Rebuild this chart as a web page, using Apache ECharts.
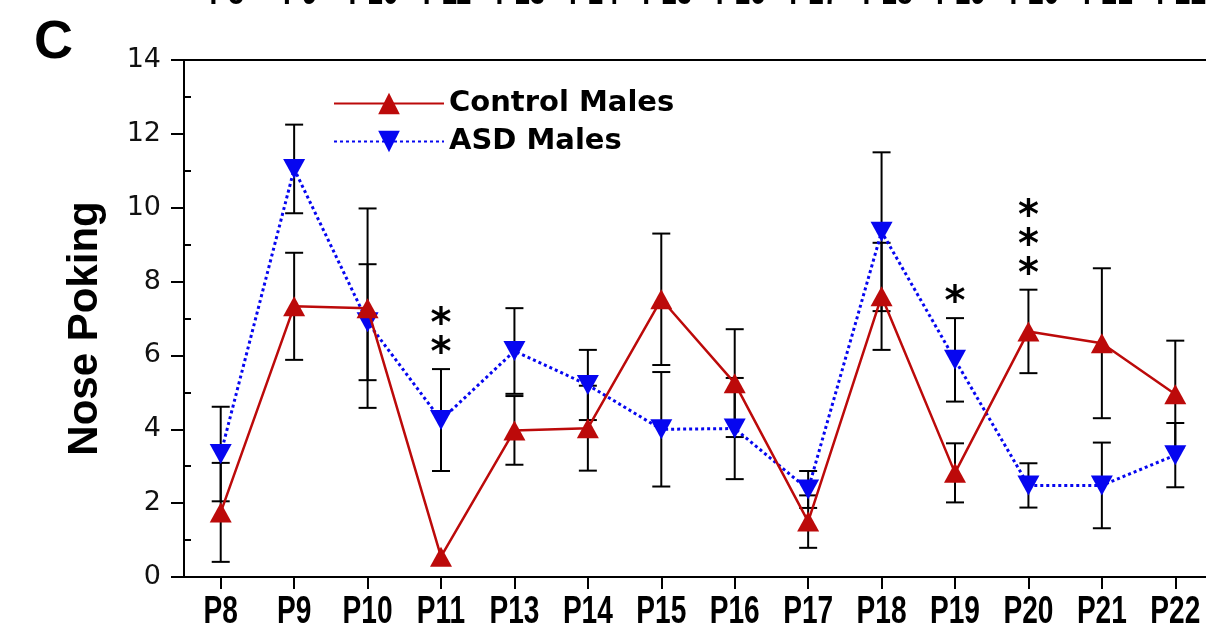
<!DOCTYPE html>
<html>
<head>
<meta charset="utf-8">
<script src="https://cdn.jsdelivr.net/npm/echarts@6/dist/echarts.min.js"></script>
<style>
  html, body { margin: 0; padding: 0; background: #fff; }
  #chart { width: 1206px; height: 640px; }
</style>
</head>
<body>
<div id="chart"></div>
<script>
// Postnatal days on the x axis
const categories = ['P8', 'P9', 'P10', 'P11', 'P13', 'P14', 'P15', 'P16', 'P17', 'P18', 'P19', 'P20', 'P21', 'P22'];

// Mean nose-poking counts and their error (± SEM)
const controlMean = [1.75, 7.33, 7.28, 0.55, 3.97, 4.03, 7.52, 5.25, 1.50, 7.60, 2.82, 6.65, 6.33, 4.95];
const controlErr  = [1.34, 1.45, 2.70, 0.00, 0.93, 1.15, 1.78, 1.46, 0.71, 1.45, 0.80, 1.13, 2.03, 1.45];
const asdMean     = [3.33, 11.05, 6.90, 4.25, 6.12, 5.20, 4.00, 4.02, 2.37, 9.35, 5.88, 2.48, 2.48, 3.30];
const asdErr      = [1.28, 1.20, 1.57, 1.38, 1.16, 0.95, 1.55, 1.37, 0.50, 2.15, 1.13, 0.60, 1.16, 0.87];

// Significance markers per day
const significance = ['', '', '', '**', '', '', '', '', '', '', '*', '***', '', ''];

// Value axis range
const yMin = 0, yMax = 14, yStep = 2;

const RED = '#BC0A0A';
const BLUE = '#0606F0';
const NARROW_BOLD = "bold 39px 'Liberation Sans', Arial, sans-serif";

function errorBars(name, means, errs) {
  return {
    type: 'custom',
    name: name,
    xAxisIndex: 0,
    yAxisIndex: 0,
    z: 2,
    silent: true,
    data: means.map((m, i) => [i, m - errs[i], m + errs[i]]),
    renderItem(params, api) {
      const x = api.value(0), lo = api.value(1), hi = api.value(2);
      if (!(hi > lo)) return null;
      const pLo = api.coord([x, lo]);
      const pHi = api.coord([x, hi]);
      const half = 9;
      const style = { stroke: '#000', lineWidth: 2 };
      return {
        type: 'group',
        children: [
          { type: 'line', shape: { x1: pLo[0], y1: pLo[1], x2: pHi[0], y2: pHi[1] }, style },
          { type: 'line', shape: { x1: pHi[0] - half, y1: pHi[1], x2: pHi[0] + half, y2: pHi[1] }, style },
          { type: 'line', shape: { x1: pLo[0] - half, y1: pLo[1], x2: pLo[0] + half, y2: pLo[1] }, style }
        ]
      };
    }
  };
}

// Condensed day labels under each category tick
function dayLabels(xAxisIndex, yAxisIndex, gap) {
  return {
    type: 'custom',
    name: 'Days ' + xAxisIndex,
    xAxisIndex: xAxisIndex,
    yAxisIndex: yAxisIndex,
    z: 5,
    silent: true,
    clip: false,
    data: categories.map((c, i) => [i, yMin]),
    renderItem(params, api) {
      const i = api.value(0);
      const p = api.coord([i, api.value(1)]);
      return {
        type: 'text',
        x: p[0],
        y: p[1] + gap,
        scaleX: 0.72,
        style: {
          text: categories[i],
          font: NARROW_BOLD,
          fill: '#000',
          align: 'center',
          verticalAlign: 'top'
        }
      };
    }
  };
}

// Stars sit above the taller of the two error bars on that day
const sigData = [];
significance.forEach((s, i) => {
  if (s) sigData.push([i, Math.max(controlMean[i] + controlErr[i], asdMean[i] + asdErr[i])]);
});

const chart = echarts.init(document.getElementById('chart'), null, { renderer: 'canvas' });

chart.setOption({
  animation: false,
  backgroundColor: '#fff',
  graphic: [{
    type: 'text',
    left: 34,
    top: 16,
    style: { text: 'C', font: "bold 54px 'Liberation Sans', Arial, sans-serif", fill: '#000' }
  }],
  legend: {
    data: ['Control Males', 'ASD Males'],
    orient: 'vertical',
    left: 328,
    top: 84,
    itemWidth: 110,
    itemHeight: 27,
    itemGap: 9,
    textStyle: { fontFamily: "'DejaVu Sans', sans-serif", fontWeight: 'bold', fontSize: 29, color: '#000' },
    selectedMode: false
  },
  grid: [
    { left: 184, top: 60, width: 1028, height: 517, outerBoundsMode: 'none', show: true, borderColor: '#000', borderWidth: 2, backgroundColor: 'transparent' },
    // minor ticks at odd values, pointing inward
    { left: 184, top: 60 + 517 / 14, width: 1028, height: 517 * 12 / 14, outerBoundsMode: 'none' },
    // day labels of the panel above, cut by the top edge
    { left: 190, top: -84, width: 1028, height: 50, outerBoundsMode: 'none' }
  ],
  xAxis: [
    {
      type: 'category',
      gridIndex: 0,
      data: categories,
      boundaryGap: true,
      axisLine: { lineStyle: { color: '#000', width: 2 } },
      axisTick: { show: true, interval: 0, alignWithLabel: true, length: 12, lineStyle: { color: '#000', width: 2 } },
      axisLabel: { show: true, interval: 0, formatter: () => '' },
      splitLine: { show: false }
    },
    { type: 'category', gridIndex: 1, data: categories, show: false },
    { type: 'category', gridIndex: 2, data: categories, boundaryGap: true, show: false }
  ],
  yAxis: [
    {
      type: 'value',
      gridIndex: 0,
      min: yMin,
      max: yMax,
      interval: yStep,
      name: 'Nose Poking',
      nameLocation: 'middle',
      nameGap: 78,
      nameRotate: 90,
      nameTextStyle: { fontFamily: "'Liberation Sans', Arial, sans-serif", fontWeight: 'bold', fontSize: 42, color: '#000', padding: [0, 20, 0, 0] },
      axisLine: { show: true, lineStyle: { color: '#000', width: 2 } },
      axisTick: { show: true, length: 13, lineStyle: { color: '#000', width: 2 } },
      axisLabel: { margin: 23, color: '#111', fontFamily: "'DejaVu Sans', sans-serif", fontSize: 27 },
      splitLine: { show: false }
    },
    {
      type: 'value',
      gridIndex: 1,
      min: yMin + yStep / 2,
      max: yMax - yStep / 2,
      interval: yStep,
      axisLine: { show: false },
      axisTick: { show: true, inside: true, length: 7, lineStyle: { color: '#000', width: 2 } },
      axisLabel: { show: false },
      splitLine: { show: false }
    },
    { type: 'value', gridIndex: 2, min: yMin, max: yMax, show: false }
  ],
  series: [
    errorBars('Control error', controlMean, controlErr),
    errorBars('ASD error', asdMean, asdErr),
    {
      name: 'Control Males',
      type: 'line',
      xAxisIndex: 0,
      yAxisIndex: 0,
      data: controlMean,
      z: 4,
      symbol: 'triangle',
      symbolSize: [22, 20],
      itemStyle: { color: RED },
      lineStyle: { color: RED, width: 2.5 }
    },
    {
      name: 'ASD Males',
      type: 'line',
      xAxisIndex: 0,
      yAxisIndex: 0,
      data: asdMean,
      z: 3,
      symbol: 'triangle',
      symbolRotate: 180,
      symbolSize: [22, 20],
      itemStyle: { color: BLUE },
      lineStyle: { color: BLUE, width: 3, type: [3, 3] }
    },
    {
      name: 'Significance',
      type: 'custom',
      xAxisIndex: 0,
      yAxisIndex: 0,
      z: 5,
      silent: true,
      data: sigData,
      renderItem(params, api) {
        const i = api.value(0);
        const p = api.coord([i, api.value(1)]);
        return {
          type: 'text',
          x: p[0],
          y: p[1],
          style: {
            text: significance[i].split('').join('\n'),
            font: "bold 40px 'DejaVu Sans', sans-serif",
            lineHeight: 29,
            fill: '#000',
            align: 'center',
            verticalAlign: 'bottom'
          }
        };
      }
    },
    dayLabels(0, 0, 16),
    dayLabels(2, 2, 8)
  ]
});
</script>
</body>
</html>
